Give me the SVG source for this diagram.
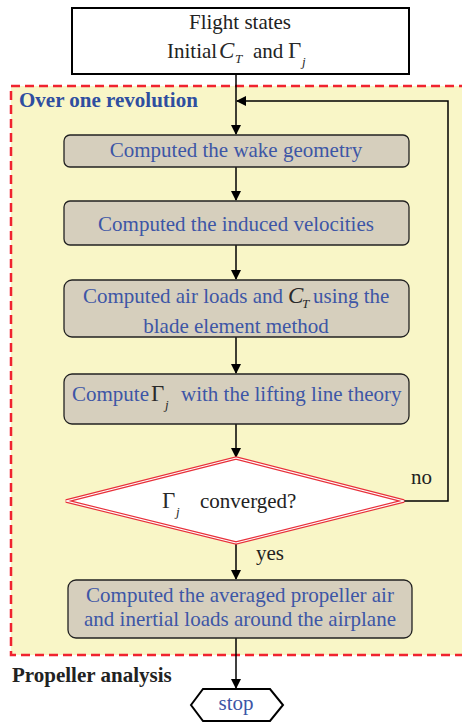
<svg xmlns="http://www.w3.org/2000/svg" width="462" height="723" viewBox="0 0 462 723">
<defs>
<marker id="ah" markerWidth="10" markerHeight="10" refX="9" refY="5" orient="auto" markerUnits="userSpaceOnUse">
<path d="M0,0 L10,5 L0,10 Z" fill="#000"/>
</marker>
</defs>
<style>
text{font-family:"Liberation Serif","Times New Roman",serif;font-size:21px}
.t{fill:#3d56a6;text-anchor:middle}
.k{fill:#222;text-anchor:middle}
.m{font-style:italic;fill:#2a2a2a}
.g{font-size:23px;fill:#2a2a2a}
.sub{font-style:italic;font-size:13px;fill:#2a2a2a}
.box{fill:#d6cfbd;stroke:#222;stroke-width:1.3}
.ln{stroke:#000;stroke-width:1.5;fill:none}
</style>
<rect x="11" y="86" width="460" height="569" fill="#f9f6c7" stroke="#f0232f" stroke-width="2.5" stroke-dasharray="9,5"/>
<text x="19" y="107" style="font-weight:bold;fill:#2f4ea0">Over one revolution</text>
<text x="12" y="682" style="font-weight:bold;fill:#222">Propeller analysis</text>

<g id="connectors">
<line class="ln" x1="236" y1="75" x2="236" y2="134" marker-end="url(#ah)"/>
<line class="ln" x1="236" y1="167" x2="236" y2="200" marker-end="url(#ah)"/>
<line class="ln" x1="236" y1="245" x2="236" y2="279" marker-end="url(#ah)"/>
<line class="ln" x1="236" y1="337" x2="236" y2="373" marker-end="url(#ah)"/>
<line class="ln" x1="236" y1="424" x2="236" y2="457" marker-end="url(#ah)"/>
<line class="ln" x1="236" y1="543" x2="236" y2="579" marker-end="url(#ah)"/>
<line class="ln" x1="236" y1="638" x2="236" y2="688" marker-end="url(#ah)"/>
<polyline class="ln" points="404,501 448,501 448,101 237,101" marker-end="url(#ah)"/>
<text x="411" y="484" class="k" style="text-anchor:start">no</text>
<text x="256" y="560" class="k" style="text-anchor:start">yes</text>
</g>

<g id="start">
<rect x="72" y="8" width="337" height="66" fill="#fff" stroke="#000" stroke-width="2"/>
<text x="240" y="29" class="k">Flight states</text>
<text y="58" class="k" style="text-anchor:start"><tspan x="167">Initial</tspan><tspan x="219" class="m" font-size="23">C</tspan><tspan x="235" class="sub" dy="5">T</tspan><tspan x="253" dy="-5">and</tspan><tspan x="288" class="g">Γ</tspan><tspan x="302" class="sub" dy="8">j</tspan></text>
</g>

<g id="wake">
<rect class="box" x="64" y="135" width="345" height="32" rx="6"/>
<text x="236" y="157" class="t">Computed the wake geometry</text>
</g>

<g id="induced">
<rect class="box" x="64" y="201" width="345" height="44" rx="6"/>
<text x="236" y="231" class="t">Computed the induced velocities</text>
</g>

<g id="airloads">
<rect class="box" x="64" y="280" width="345" height="57" rx="8"/>
<text y="303" class="t" style="text-anchor:start"><tspan x="83">Computed air loads and</tspan><tspan x="288" class="m" font-size="23">C</tspan><tspan x="302" class="sub" font-size="12" dy="5">T</tspan><tspan x="313" dy="-5">using the</tspan></text>
<text x="236" y="333" class="t">blade element method</text>
</g>

<g id="gamma">
<rect class="box" x="64" y="374" width="345" height="50" rx="8"/>
<text y="401" class="t" style="text-anchor:start"><tspan x="72">Compute</tspan><tspan x="151" class="g">Γ</tspan><tspan x="165" class="sub" dy="8">j</tspan><tspan x="181" dy="-8">with the lifting line theory</tspan></text>
</g>

<g id="converged">
<polygon points="236,458 404,501 236,543 66,501" fill="#fff" stroke="#e8303a" stroke-width="3.5"/>
<polygon points="236,458 404,501 236,543 66,501" fill="none" stroke="#fff" stroke-width="1.2"/>
<text y="508" class="k" style="text-anchor:start"><tspan x="162" class="g">Γ</tspan><tspan x="176" class="sub" dy="8">j</tspan><tspan x="200" dy="-8">converged?</tspan></text>
</g>

<g id="averaged">
<rect class="box" x="68" y="580" width="344" height="58" rx="8"/>
<text x="240" y="602" class="t">Computed the averaged propeller air</text>
<text x="240" y="626" class="t">and inertial loads around the airplane</text>
</g>

<g id="stop">
<polygon points="191,705 203,689 270,689 283,705 270,721 203,721" fill="#fff" stroke="#000" stroke-width="2"/>
<text x="236" y="710" class="t">stop</text>
</g>
</svg>
